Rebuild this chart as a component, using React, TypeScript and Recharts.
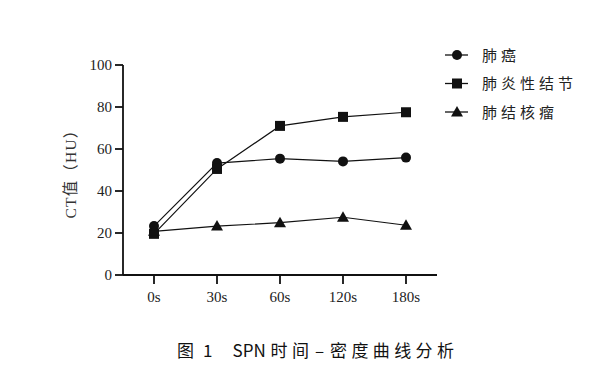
import { Line, LineChart, XAxis, YAxis } from "recharts";

const times = ["0s", "30s", "60s", "120s", "180s"];
const lungCancer = [23.3, 53.3, 55.4, 54.1, 55.9];
const inflammatoryNodule = [19.6, 50.5, 71.0, 75.3, 77.5];
const tuberculoma = [20.8, 23.3, 24.9, 27.5, 23.7];
const yTicks = [0, 20, 40, 60, 80, 100];

const seriesNames = ["肺癌", "肺炎性结节", "肺结核瘤"];

const data = times.map((t, i) => ({
    time: t,
    a: lungCancer[i],
    b: inflammatoryNodule[i],
    c: tuberculoma[i],
}));

const INK = "#111";

const Marker = ({ kind, cx, cy }: { kind: string; cx: number; cy: number }) => {
    if (kind === "circle") return <circle cx={cx} cy={cy} r={5} fill={INK} />;
    if (kind === "square")
        return <rect x={cx - 5} y={cy - 5} width={10} height={10} fill={INK} />;
    return (
        <polygon
            points={`${cx},${cy - 6} ${cx + 6},${cy + 4.5} ${cx - 6},${cy + 4.5}`}
            fill={INK}
        />
    );
};

const kinds = ["circle", "square", "triangle"];

const dotFor = (kind: string) => (props: any) => (
    <Marker key={`${kind}-${props.index}`} kind={kind} cx={props.cx} cy={props.cy} />
);

// legend drawn by hand, the chart's own Legend would eat into the plot width
const LegendBox = () => (
    <svg width={160} height={80} style={{ position: "absolute", left: 441, top: 45 }}>
        {seriesNames.map((name, i) => {
            const y = 10 + i * 28.5;
            return (
                <g key={name}>
                    <line x1={4} x2={27} y1={y} y2={y} stroke={INK} strokeWidth={1.3} />
                    <Marker kind={kinds[i]} cx={16} cy={y} />
                    <text
                        x={41}
                        y={y + 5.5}
                        fontSize={15}
                        letterSpacing={4}
                        fill="#222"
                        fontFamily="'Noto Sans CJK SC', sans-serif"
                    >
                        {name}
                    </text>
                </g>
            );
        })}
    </svg>
);

// caption pieces: [text, left, letter spacing]
const caption: [string, number, number][] = [
    ["图", 177, 0],
    ["1", 203, 0],
    ["SPN", 232.5, 0],
    ["时间", 270.5, 4.6],
    ["–", 315, 0],
    ["密度曲线分析", 330, 4.4],
];

export default function App() {
    return (
        <div style={{ position: "absolute", left: 0, top: 0, width: 600, height: 374, background: "#fff" }}>
            <LineChart
                width={600}
                height={374}
                data={data}
                margin={{ top: 65, right: 163, bottom: 69, left: 0 }}
            >
                <XAxis
                    dataKey="time"
                    padding={{ left: 31, right: 31 }}
                    interval={0}
                    stroke={INK}
                    strokeWidth={1.8}
                    tickSize={9}
                    tickMargin={7}
                    height={30}
                    tick={{ fill: "#222", fontSize: 15, fontFamily: "'Liberation Serif', serif" }}
                />
                <YAxis
                    domain={[0, 100]}
                    ticks={yTicks}
                    width={123}
                    stroke={INK}
                    strokeWidth={1.8}
                    tickSize={8}
                    tickMargin={3}
                    tick={{ fill: "#222", fontSize: 15, fontFamily: "'Liberation Serif', serif" }}
                    label={{
                        value: "CT值（HU）",
                        angle: -90,
                        position: "insideLeft",
                        offset: 70,
                        fill: "#333",
                        fontSize: 15.5,
                        letterSpacing: 1.2,
                        fontFamily: "'Liberation Serif', 'Noto Sans CJK SC', serif",
                        style: { textAnchor: "middle", fill: "#333" },
                    }}
                />
                <Line dataKey="a" name={seriesNames[0]} stroke={INK} strokeWidth={1.2} dot={dotFor("circle")} isAnimationActive={false} />
                <Line dataKey="b" name={seriesNames[1]} stroke={INK} strokeWidth={1.2} dot={dotFor("square")} isAnimationActive={false} />
                <Line dataKey="c" name={seriesNames[2]} stroke={INK} strokeWidth={1.2} dot={dotFor("triangle")} isAnimationActive={false} />
            </LineChart>
            <LegendBox />
            {caption.map(([txt, left, ls]) => (
                <span
                    key={txt}
                    style={{
                        position: "absolute",
                        top: 337,
                        left,
                        fontSize: 17,
                        letterSpacing: ls,
                        color: "#111",
                        fontFamily: "'Noto Sans CJK SC', sans-serif",
                        whiteSpace: "pre",
                    }}
                >
                    {txt}
                </span>
            ))}
        </div>
    );
}
